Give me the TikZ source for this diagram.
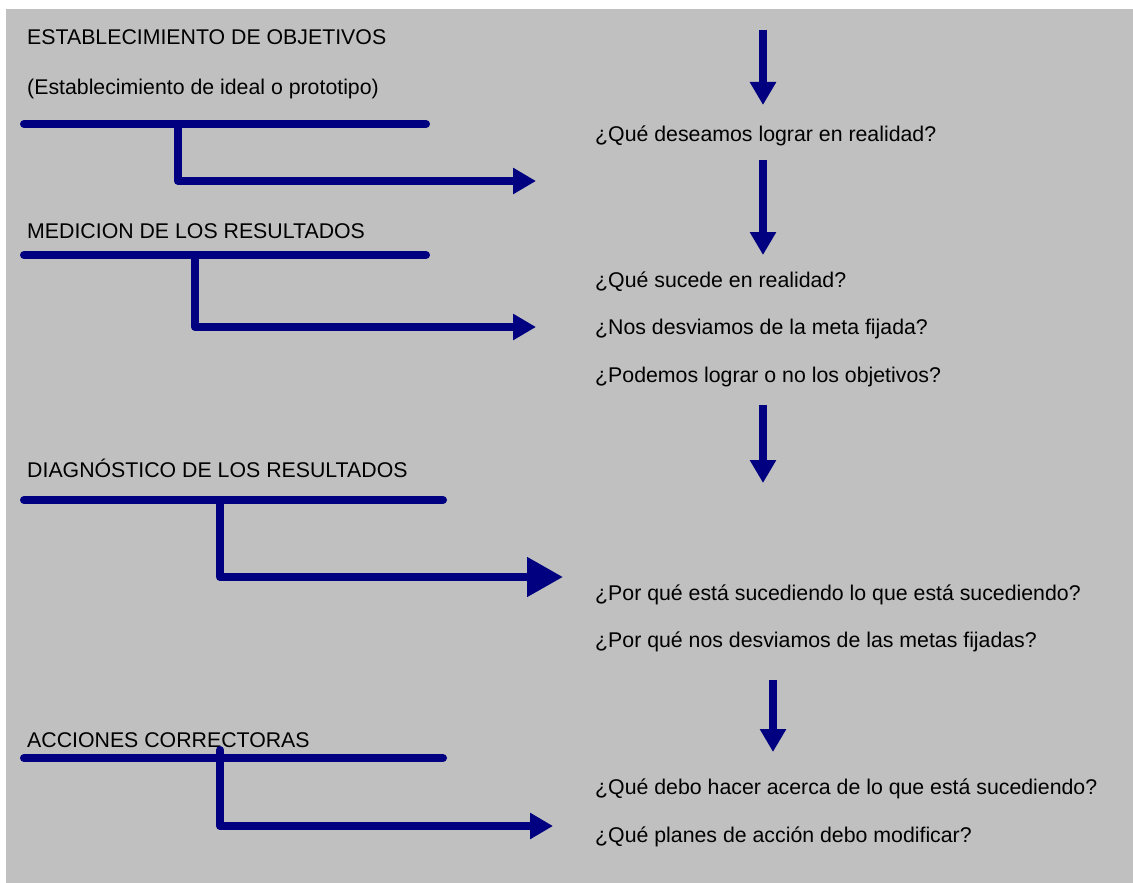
\documentclass[tikz,border=0pt]{standalone}
\usepackage{fontspec}
\setmainfont{Liberation Sans}
\usetikzlibrary{arrows.meta}
\definecolor{fondo}{HTML}{C0C0C0}
\definecolor{marino}{HTML}{000080}
\tikzset{
  etapa/.style={anchor=base west,inner sep=0pt,font=\fontsize{21.3}{25}\selectfont},
  barra/.style={draw=marino,line width=8pt,line cap=round,line join=round},
  flecha/.style={barra,-{Triangle[length=23pt,width=25pt]}},
  baja/.style={draw=marino,line width=8pt,-{Triangle[length=23pt,width=25pt]}}
}
\begin{document}
\begin{tikzpicture}[x=1pt,y=-1pt]
\useasboundingbox (0,0) rectangle (1133,883);
\fill[fondo] (6,9) rectangle (1133,883);
% etapas
\node[etapa] (e1) at (27,45) {ESTABLECIMIENTO DE OBJETIVOS};
\node[etapa] (e1b) at (27,95) {(Establecimiento de ideal o prototipo)};
\node[etapa] (e2) at (27,238) {MEDICION DE LOS RESULTADOS};
\node[etapa] (e3) at (27,477) {DIAGNÓSTICO DE LOS RESULTADOS};
\node[etapa] (e4) at (27,747) {ACCIONES CORRECTORAS};
% preguntas
\foreach \y/\t [count=\j from 1] in {141/{¿Qué deseamos lograr en realidad?},
    287/{¿Qué sucede en realidad?},
    334/{¿Nos desviamos de la meta fijada?},
    382/{¿Podemos lograr o no los objetivos?},
    600/{¿Por qué está sucediendo lo que está sucediendo?},
    647/{¿Por qué nos desviamos de las metas fijadas?},
    794/{¿Qué debo hacer acerca de lo que está sucediendo?},
    842/{¿Qué planes de acción debo modificar?}}
  \node[etapa] (p\j) at (595,\y) {\t};
% barras y flechas
\foreach \h/\x/\v/\r/\f [count=\j from 1] in {124/426/178/181/536, 255/426/195/327/536, 500/443/220/577/563, 758/443/220/826/553} {
  \coordinate (ba\j) at (24,\h);
  \coordinate (bb\j) at (\x,\h);
  \coordinate (vc\j) at (\v,\h);
  \coordinate (vd\j) at (\v,\r);
  \coordinate (ft\j) at (\f,\r);
}
\foreach \j in {1,...,4} \path[barra] (ba\j) -- (bb\j);
\path[flecha] (vc1) -- (vd1) -- (ft1);
\path[flecha] (vc2) -- (vd2) -- (ft2);
\path[barra,-{Triangle[length=36pt,width=38pt]}] (vc3) -- (vd3) -- (ft3);
\coordinate (vc4) at (220,750);
\path[flecha] (vc4) -- (vd4) -- (ft4);
% flechas verticales
\foreach \x/\a/\b [count=\j from 1] in {763/30/105, 763/160/255, 763/405/483, 773/680/752} {
  \coordinate (sa\j) at (\x,\a);
  \coordinate (sb\j) at (\x,\b);
  \path[baja] (sa\j) -- (sb\j);
}
\end{tikzpicture}
\end{document}
